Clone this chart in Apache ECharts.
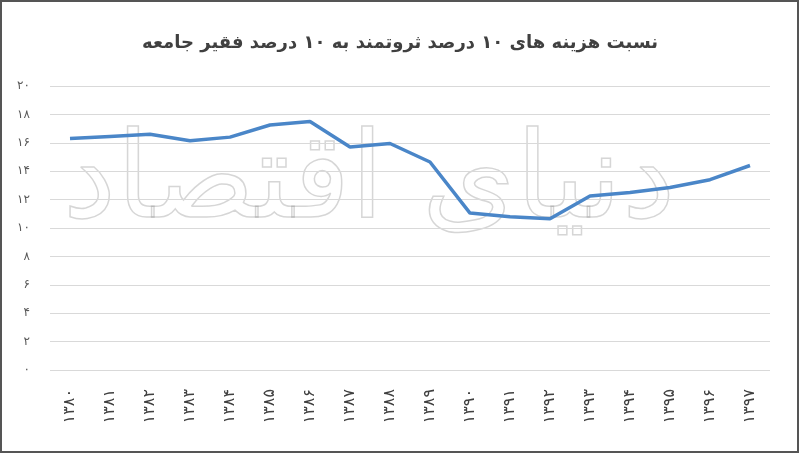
<!DOCTYPE html>
<html>
<head>
<meta charset="utf-8">
<script src="https://cdn.jsdelivr.net/npm/echarts@6/dist/echarts.min.js"></script>
<style>html,body{margin:0;padding:0;background:#fff}#c{width:800px;height:454px}</style>
</head>
<body>
<div id="c"></div>
<script>
var titleText = 'نسبت هزینه های ۱۰ درصد ثروتمند به ۱۰ درصد فقیر جامعه';
var years = ['۱۳۸۰','۱۳۸۱','۱۳۸۲','۱۳۸۳','۱۳۸۴','۱۳۸۵','۱۳۸۶','۱۳۸۷','۱۳۸۸','۱۳۸۹','۱۳۹۰','۱۳۹۱','۱۳۹۲','۱۳۹۳','۱۳۹۴','۱۳۹۵','۱۳۹۶','۱۳۹۷'];
var ratio = [16.3, 16.45, 16.6, 16.15, 16.4, 17.25, 17.5, 15.7, 15.95, 14.65, 11.05, 10.8, 10.65, 12.25, 12.5, 12.85, 13.4, 14.4];
var fa = ['۰','۱','۲','۳','۴','۵','۶','۷','۸','۹'];
function toFa(n){return String(n).replace(/[0-9]/g,function(d){return fa[+d];});}
var chart = echarts.init(document.getElementById('c'));
chart.setOption({
  backgroundColor:'#fff',
  animation:false,
  title:{text:titleText,left:'center',top:29,textStyle:{fontFamily:'DejaVu Sans',fontSize:18,fontWeight:'bold',color:'#404040'}},
  grid:{left:50,right:30,top:86,bottom:84},
  xAxis:{type:'category',data:years,boundaryGap:true,
    axisLine:{show:false},axisTick:{show:false},
    axisLabel:{rotate:90,margin:19,fontFamily:'DejaVu Sans',fontSize:16,color:'#404040'}},
  yAxis:{type:'value',min:0,max:20,interval:2,
    axisLine:{show:false},axisTick:{show:false},
    splitLine:{lineStyle:{color:'#d9d9d9',width:1}},
    axisLabel:{margin:20,fontFamily:'DejaVu Sans',fontSize:12,color:'#595959',formatter:function(v){return toFa(v);}}},
  graphic:[
    {type:'text',z:0,silent:true,left:62,top:125,
     style:{text:'دنیای اقتصاد',font:'120px "DejaVu Sans"',fill:'rgba(255,255,255,0)',stroke:'rgba(120,120,120,0.3)',lineWidth:1.5}},
    {type:'rect',z:100,silent:true,shape:{x:1,y:1,width:797,height:451},style:{fill:'none',stroke:'#555',lineWidth:2}}
  ],
  series:[{type:'line',data:ratio,smooth:false,symbol:'none',z:5,
    lineStyle:{color:'#4a86c8',width:3.5}}]
});
</script>
</body>
</html>
